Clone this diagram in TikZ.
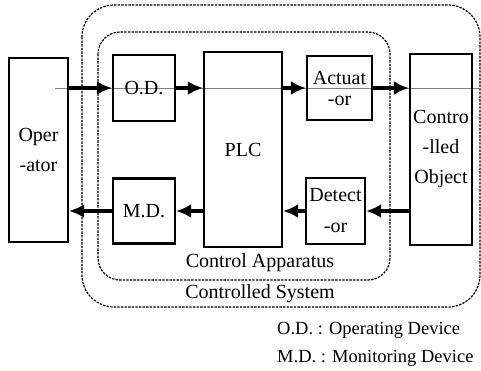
\documentclass[tikz,border=0pt]{standalone}
\usepackage{fontspec}
\setmainfont{Liberation Serif}
\usetikzlibrary{arrows.meta}

\begin{document}
\begin{tikzpicture}[x=1pt,y=-1pt,
	blk/.style 2 args={draw,line width=2.2pt,minimum width=#1,minimum height=#2,inner sep=0pt,align=center,font=\fontsize{20}{30}\selectfont},
	flow/.style={line width=3.6pt,-{Latex[length=15pt,width=14pt]}},
	fence/.style={line width=1.2pt,dash pattern=on 2.4pt off 1.2pt},
	txt/.style={font=\fontsize{20}{24}\selectfont,inner sep=0pt},
	key/.style={font=\fontsize{18.5}{24}\selectfont,inner sep=0pt,anchor=west}]
		\useasboundingbox (0,0) rectangle (481,370);
		% the two system boundaries
		\draw[fence,rounded corners=32] (82,5) rectangle (480,307);
		\draw[fence,rounded corners=22] (98,32) rectangle (390,280);
		\draw[line width=0.4pt,gray] (55,88) -- (481,88);
		% blocks
		\node[blk={59}{184}] (op) at (38.5,150) {Oper\\-ator};
		\node[blk={62}{66}] (od) at (144,88) {O.D.};
		\node[blk={78}{195}] (plc) at (243,149.5) {PLC};
		\node[blk={65}{64},font=\fontsize{20}{21}\selectfont] (act) at (339.5,88) {Actuat\\-or};
		\node[blk={62}{191}] (obj) at (441,149.5) {Contro\\-lled\\Object};
		\node[blk={62}{65}] (md) at (144,211) {M.D.};
		\node[blk={59}{66},font=\fontsize{20}{31}\selectfont] (det) at (335.5,211) {Detect\\-or};
		% operating path
		\draw[flow] (op.east |- od.west) -- (od.west);
		\draw[flow] (od.east) -- (od.east -| plc.west);
		\draw[flow] (act.west -| plc.east) -- (act.west);
		\draw[flow] (act.east) -- (act.east -| obj.west);
		% monitoring path
		\draw[flow] (obj.west |- det.east) -- (det.east);
		\draw[flow] (det.west) -- (det.west -| plc.east);
		\draw[flow] (md.east -| plc.west) -- (md.east);
		\draw[flow] (md.west) -- (md.west -| op.east);
		% labels
		\node[txt] (appl) at (260,263) {Control Apparatus};
		\node[txt] (sysl) at (260,294) {Controlled System};
		\node[key] (odl) at (277,330) {O.D. : Operating Device};
		\node[key] (mdl) at (277,358) {M.D. : Monitoring Device};
\end{tikzpicture}
\end{document}
